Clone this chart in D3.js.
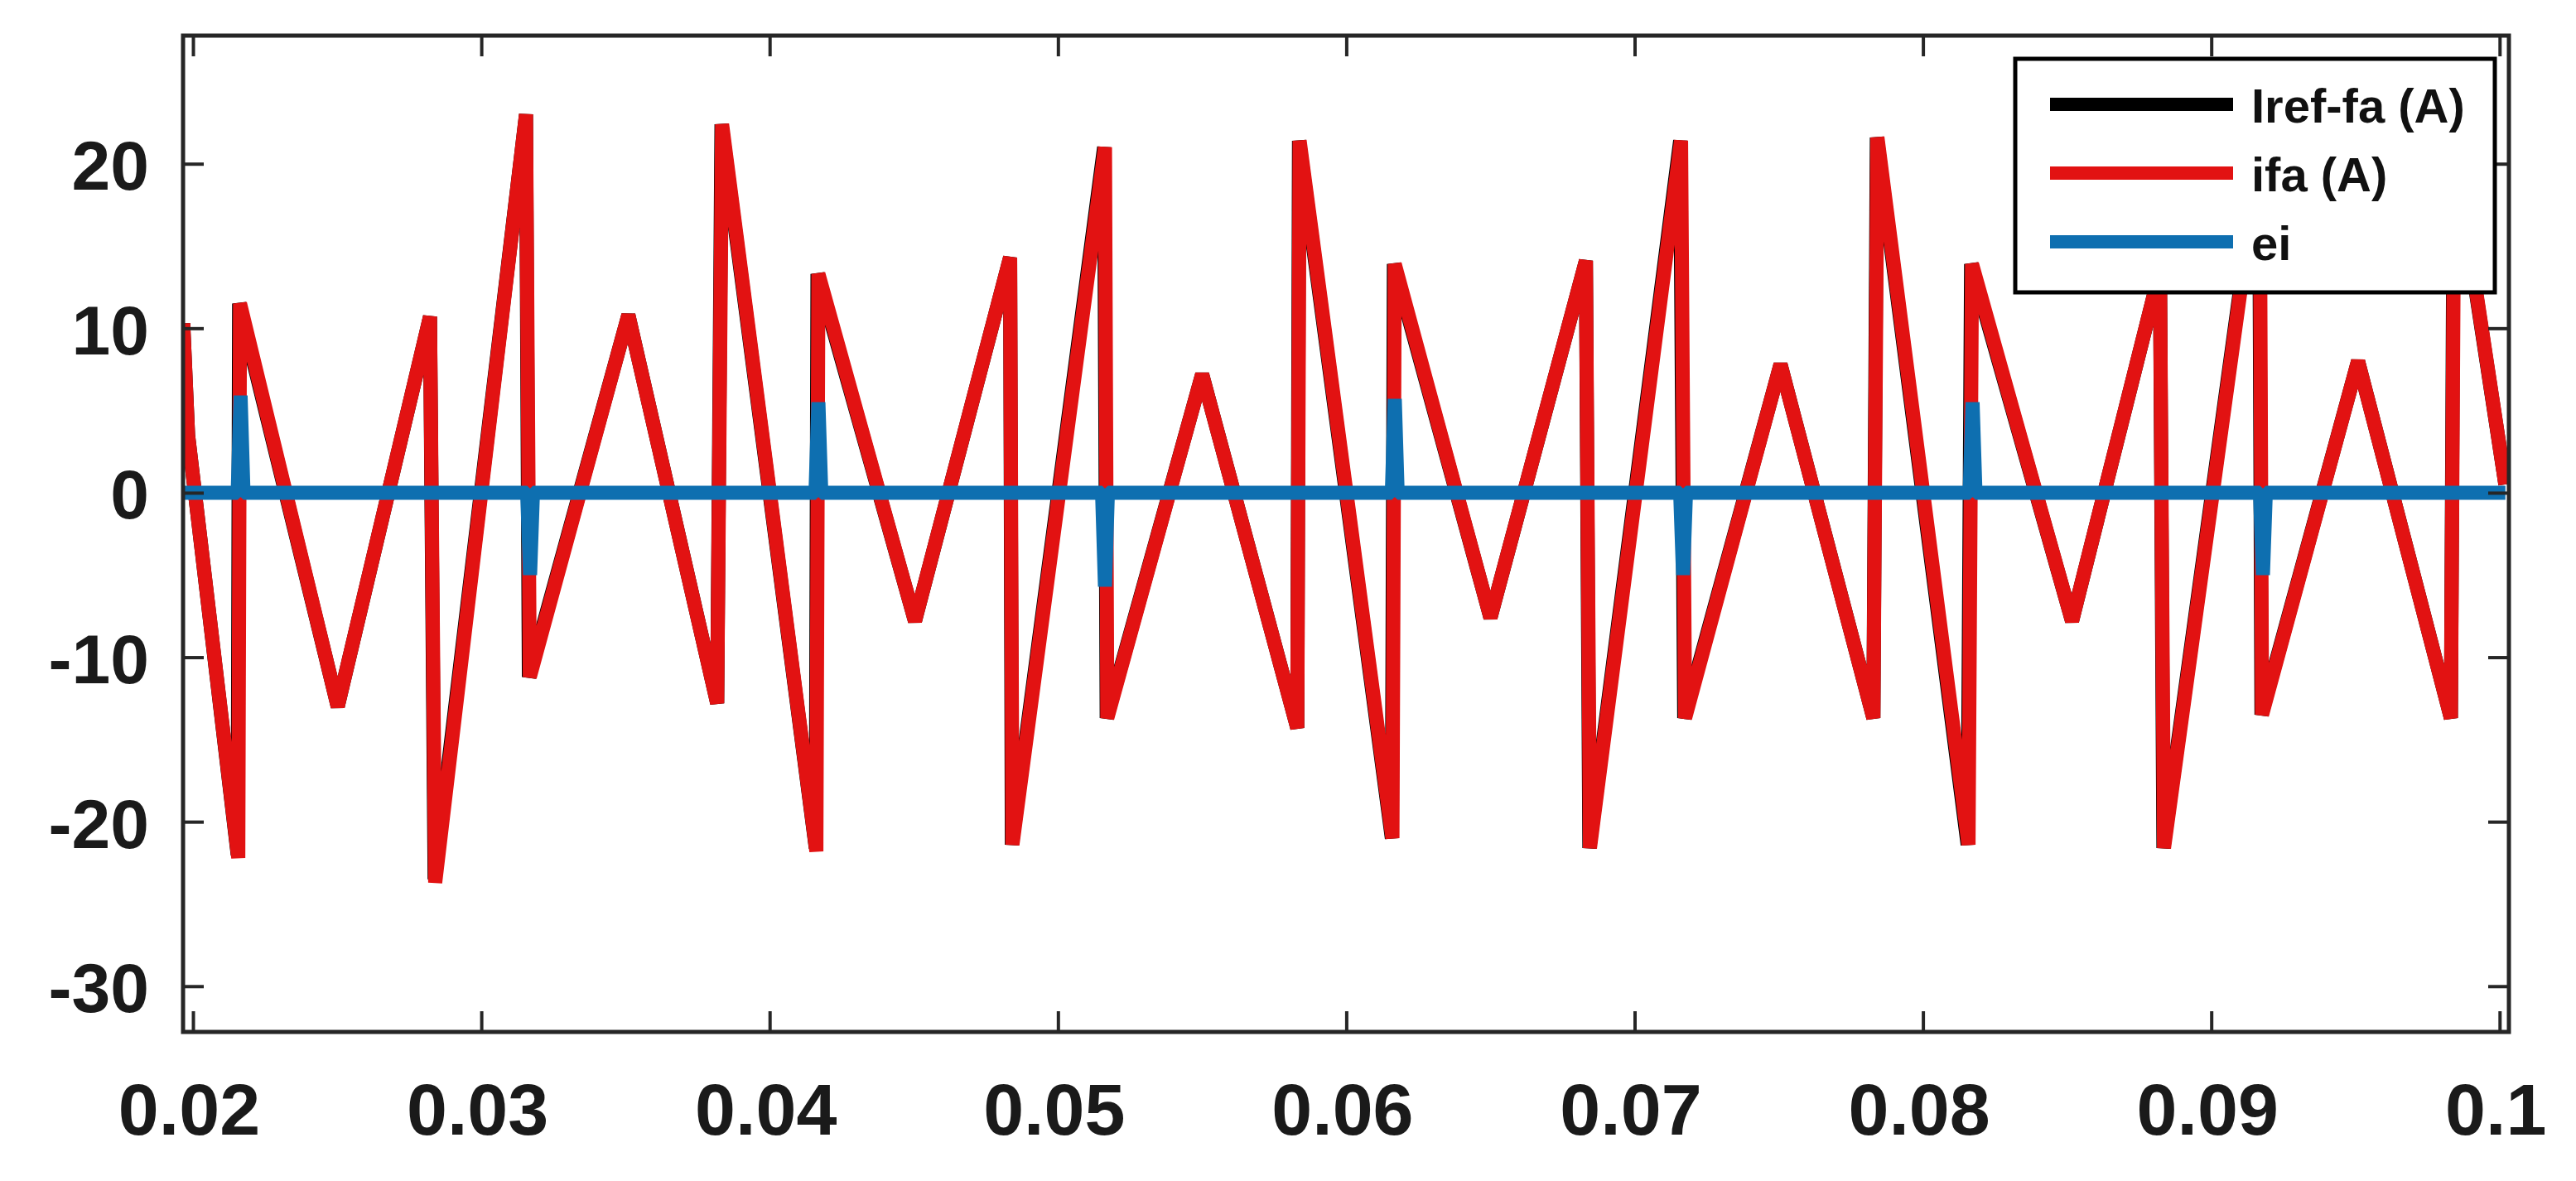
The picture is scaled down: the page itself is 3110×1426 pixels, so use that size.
<!DOCTYPE html>
<html><head><meta charset="utf-8">
<script src="https://cdn.jsdelivr.net/npm/d3@7"></script>
<style>body{margin:0;background:#fff}</style>
</head><body>
<svg id="c" width="3110" height="1426"></svg>
<script>
// ---- data ----
const xTickValues = [0.02,0.03,0.04,0.05,0.06,0.07,0.08,0.09,0.1];
const xTickLabels = ["0.02","0.03","0.04","0.05","0.06","0.07","0.08","0.09","0.1"];
const yTickValues = [-30,-20,-10,0,10,20];
const yTickLabels = ["-30","-20","-10","0","10","20"];
const seriesNames = ["Iref-fa (A)","ifa (A)","ei"];

// ifa (A) vertices
const tIfa = [0.01966,0.01983,0.02157,0.02163,0.02502,0.02822,0.02840,0.03155,0.03168,0.03510,
              0.03818,0.03835,0.04162,0.04169,0.04504,0.04834,0.04842,0.05163,0.05171,0.05500,
              0.05830,0.05838,0.06160,0.06168,0.06500,0.06831,0.06845,0.07161,0.07175,0.07506,
              0.07828,0.07842,0.08158,0.08170,0.08517,0.08822,0.08836,0.09168,0.09176,0.09509,
              0.09831,0.09843,0.10020];
const vIfa = [10.3,3.5,-22.2,11.5,-13.0,10.7,-23.7,23.0,-11.2,10.8,
              -12.8,22.4,-21.8,13.3,-7.8,14.3,-21.4,21.0,-13.7,7.2,
              -14.3,21.4,-21.0,13.9,-7.6,14.1,-21.6,21.4,-13.7,7.8,
              -13.7,21.6,-21.4,13.9,-7.8,13.5,-21.6,20.8,-13.5,8.0,
              -13.7,21.0,0.5];

// Iref-fa (A) vertices (almost identical, mostly hidden under ifa)
const tIref = [0.01966,0.01983,0.02155,0.02160,0.02502,0.02822,0.02838,0.03155,0.03165,0.03510,
               0.03818,0.03833,0.04160,0.04166,0.04504,0.04834,0.04840,0.05160,0.05169,0.05500,
               0.05830,0.05836,0.06158,0.06165,0.06500,0.06831,0.06843,0.07158,0.07172,0.07506,
               0.07828,0.07840,0.08155,0.08167,0.08517,0.08822,0.08834,0.09166,0.09174,0.09509,
               0.09831,0.09841,0.10020];
const vIref = [10.3,3.5,-22.0,11.5,-13.0,10.7,-23.5,23.0,-11.2,10.8,
               -12.8,22.4,-21.6,13.3,-7.8,14.3,-21.4,21.0,-13.7,7.2,
               -14.3,21.4,-21.0,13.9,-7.6,14.1,-21.6,21.4,-13.7,7.8,
               -13.7,21.6,-21.4,13.9,-7.8,13.5,-21.6,20.8,-13.5,8.0,
               -13.7,21.0,0.5];

// ei vertices
const tEi = [0.01966,
             0.02155,0.02165,0.02175,
             0.03159,0.03169,0.03179,
             0.04159,0.04169,0.04179,
             0.05153,0.05163,0.05173,
             0.06158,0.06168,0.06178,
             0.07158,0.07168,0.07178,
             0.08162,0.08172,0.08182,
             0.09169,0.09179,0.09189,
             0.10020];
const vEi = [0,
             0,5.9,0,
             0,-5.0,0,
             0,5.5,0,
             0,-5.7,0,
             0,5.7,0,
             0,-5.0,0,
             0,5.5,0,
             0,-5.0,0,
             0];

// ---- layout ----
const L = 221, R = 3029, T = 43, B = 1246;
const svg = d3.select("#c");
const x = d3.scaleLinear().domain([0.019655, 0.100322]).range([L, R]);
const y = d3.scaleLinear().domain([-32.78, 27.79]).range([B, T]);
const FONT = "'Liberation Sans', Arial, Helvetica, sans-serif";
const axisColor = "#262626";

svg.append("defs").append("clipPath").attr("id","clip")
  .append("rect").attr("x",L).attr("y",T).attr("width",R-L).attr("height",B-T);

const line = d3.line().x(d=>x(d[0])).y(d=>y(d[1]));
const series = [
  {pts: d3.zip(tIref, vIref), color: "#000000"},
  {pts: d3.zip(tIfa, vIfa), color: "#e21212"},
  {pts: d3.zip(tEi, vEi), color: "#0e6fb0"}
];
const gLines = svg.append("g").attr("clip-path","url(#clip)");
series.forEach(s => {
  gLines.append("path").datum(s.pts).attr("d", line)
    .attr("fill","none").attr("stroke", s.color)
    .attr("stroke-width", 17).attr("stroke-linejoin","bevel");
});

// ---- axes ----
function styleAxis(g){
  g.select(".domain").remove();
  g.selectAll(".tick line").attr("stroke", axisColor).attr("stroke-width", 4);
  g.selectAll(".tick text").attr("fill","#1a1a1a").style("font-family",FONT).style("font-weight","bold");
}
const gB = svg.append("g").attr("transform",`translate(0,${B})`)
  .call(d3.axisBottom(x).tickValues(xTickValues).tickFormat((d,i)=>xTickLabels[i]).tickSizeInner(-25).tickSizeOuter(0));
styleAxis(gB);
gB.selectAll(".tick text").attr("y",124).attr("dy",0).attr("dx",-5).style("font-size","88px");

const gT = svg.append("g").attr("transform",`translate(0,${T})`)
  .call(d3.axisTop(x).tickValues(xTickValues).tickFormat("").tickSizeInner(-25).tickSizeOuter(0));
styleAxis(gT);

const gL = svg.append("g").attr("transform",`translate(${L},0)`)
  .call(d3.axisLeft(y).tickValues(yTickValues).tickFormat((d,i)=>yTickLabels[i]).tickSizeInner(-25).tickSizeOuter(0));
styleAxis(gL);
gL.selectAll(".tick text").attr("x",-41).attr("dy",0).attr("y",31).style("font-size","84px");

const gR = svg.append("g").attr("transform",`translate(${R},0)`)
  .call(d3.axisRight(y).tickValues(yTickValues).tickFormat("").tickSizeInner(-25).tickSizeOuter(0));
styleAxis(gR);

svg.append("rect").attr("x",L).attr("y",T).attr("width",R-L).attr("height",B-T)
  .attr("fill","none").attr("stroke",axisColor).attr("stroke-width",5);

// ---- legend ----
const lg = svg.append("g");
lg.append("rect").attr("x",2433).attr("y",71).attr("width",3012-2433).attr("height",353-71)
  .attr("fill","#fff").attr("stroke","#000").attr("stroke-width",5);
const legY = [126, 209, 292];
series.forEach((s,i)=>{
  lg.append("line").attr("x1",2475).attr("x2",2696).attr("y1",legY[i]).attr("y2",legY[i])
    .attr("stroke",s.color).attr("stroke-width",16);
  lg.append("text").attr("x",2718).attr("y",legY[i]+22).text(seriesNames[i])
    .style("font-family",FONT).style("font-weight","bold").style("font-size","58px")
    .style("white-space","pre").attr("fill","#111");
});
</script>
</body></html>
